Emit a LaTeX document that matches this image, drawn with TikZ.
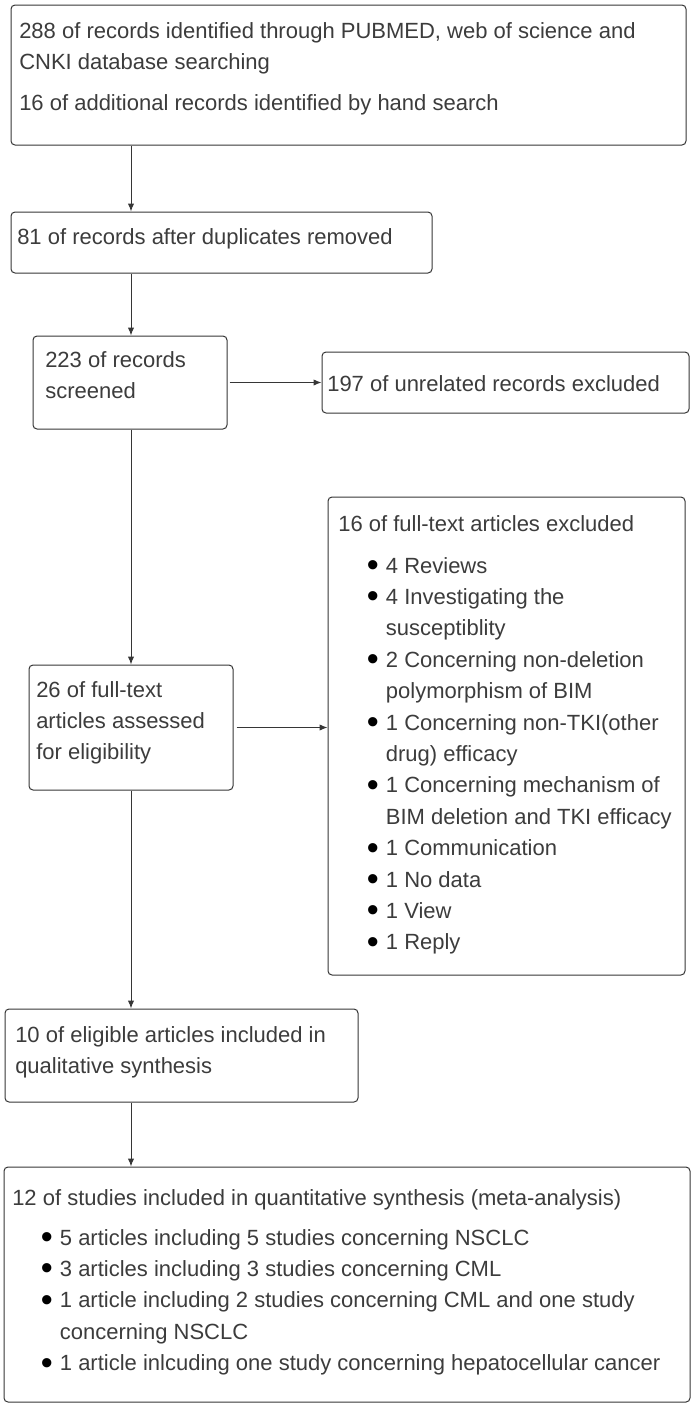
\documentclass[tikz,border=0pt]{standalone}
\usepackage{fontspec}
\setmainfont{Liberation Sans}
\usetikzlibrary{arrows.meta,fit}
\definecolor{linec}{HTML}{363636}
\definecolor{textc}{HTML}{3C3C3C}
\newlength\bulind \setlength\bulind{21.5pt}
\newlength\bulw \setlength\bulw{14.25pt}
\newcommand\bdot{\makebox[\bulw][l]{\color{black}\raisebox{-2.6pt}{\scalebox{1.55}{\textbullet}}}}
\newcommand\bitem[1]{\hspace*{\bulind}\bdot#1}
\newcommand\bcont[1]{\hspace*{\dimexpr\bulind+\bulw\relax}#1}
\newcommand\lines[1]{\parbox[t]{520pt}{#1}}
\begin{document}
\begin{tikzpicture}[x=0.75pt,y=-0.75pt,
  box/.style={draw=linec, line width=0.75pt, rounded corners=3pt, inner sep=0pt},
  txt/.style={inner sep=0pt, anchor=base west, text=textc, font=\fontsize{16.5pt}{23.55pt}\selectfont},
  arr/.style={draw=linec, line width=0.75pt, -{Latex[length=6pt,width=4.8pt]}}]
\fill[white] (0,0) rectangle (697,1415);
\useasboundingbox (0,0) rectangle (697,1415);
% boxes
\node[box, fit={(11,5) (686,145)}] (b1) {};
\node[box, fit={(11,212) (432,273)}] (b2) {};
\node[box, fit={(33,336) (227,429)}] (b3) {};
\node[box, fit={(322,352) (689,413)}] (b4) {};
\node[box, fit={(29,665) (233,790)}] (b5) {};
\node[box, fit={(328,497) (685,975)}] (b6) {};
\node[box, fit={(5,1009) (358,1102)}] (b7) {};
\node[box, fit={(4,1167) (690,1402)}] (b8) {};
% texts
\node[txt] (t1) at (19,38) {\lines{288 of records identified through PUBMED, web of science and\\CNKI database searching\\[7.5pt]16 of additional records identified by hand search}};
\node[txt] (t2) at (17,244) {81 of records after duplicates removed};
\node[txt] (t3) at (45,367) {\lines{223 of records\\screened}};
\node[txt] (t4) at (327,391) {197 of unrelated records excluded};
\node[txt] (t5) at (36,697) {\lines{26 of full-text\\articles assessed\\for eligibility}};
\node[txt] (t6) at (338,531) {\lines{16 of full-text articles excluded\\[8pt]
\bitem{4 Reviews}\\
\bitem{4 Investigating the}\\
\bcont{susceptiblity}\\
\bitem{2 Concerning non-deletion}\\
\bcont{polymorphism of BIM}\\
\bitem{1 Concerning non-TKI(other}\\
\bcont{drug) efficacy}\\
\bitem{1 Concerning mechanism of}\\
\bcont{BIM deletion and TKI efficacy}\\
\bitem{1 Communication}\\
\bitem{1 No data}\\
\bitem{1 View}\\
\bitem{1 Reply}}};
\node[txt] (t7) at (15,1042) {\lines{10 of eligible articles included in\\qualitative synthesis}};
\node[txt] (t8) at (12,1205) {\lines{12 of studies included in quantitative synthesis (meta-analysis)\\[6.5pt]
\bitem{5 articles including 5 studies concerning NSCLC}\\
\bitem{3 articles including 3 studies concerning CML}\\
\bitem{1 article including 2 studies concerning CML and one study}\\
\bcont{concerning NSCLC}\\
\bitem{1 article inlcuding one study concerning hepatocellular cancer}}};
% connectors
\coordinate (ax) at (131,0);
\draw[arr] (b1.south -| ax) -- (b2.north -| ax);
\draw[arr] (b2.south -| ax) -- (b3.north -| ax);
\draw[arr, shorten <=1.5pt] (b3.east) -- (b3.east -| b4.west);
\draw[arr] (b3.south -| ax) -- (b5.north -| ax);
\draw[arr, shorten <=2.25pt] (b5.east) -- (b5.east -| b6.west);
\draw[arr] (b5.south -| ax) -- (b7.north -| ax);
\draw[arr] (b7.south -| ax) -- (b8.north -| ax);
\end{tikzpicture}
\end{document}
